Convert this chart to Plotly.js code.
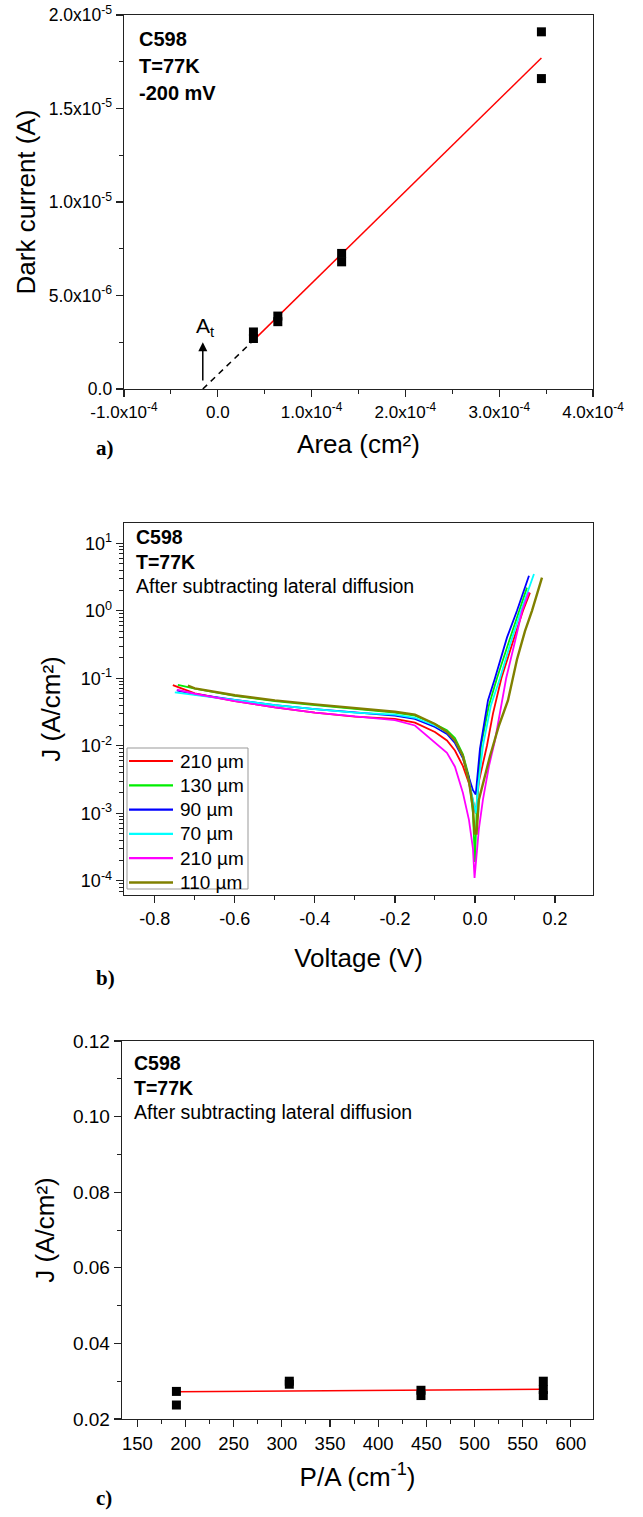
<!DOCTYPE html>
<html><head><meta charset="utf-8">
<script src="https://cdn.plot.ly/plotly-3.0.1.min.js"></script>
<style>body{margin:0;background:#fff}#chart{width:643px;height:1517px}</style>
</head><body><div id="chart"></div>
<script>
// ---------- Panel a data ----------
const areaX = [3.8e-5, 3.8e-5, 6.4e-5, 6.4e-5, 1.32e-4, 1.32e-4, 3.45e-4, 3.45e-4];
const darkI = [3.05e-6, 2.7e-6, 3.9e-6, 3.6e-6, 7.25e-6, 6.8e-6, 1.91e-5, 1.66e-5];
const fitAX = [3.8e-5, 3.45e-4];
const fitAY = [2.6e-6, 1.77e-5];
const extAX = [-1.6e-5, 3.8e-5];
const extAY = [0, 2.6e-6];
const arrowAt = [-1.6e-5, 2.5e-6]; // x of A_t, arrow tip height
const aXTicks = [-1e-4, 0, 1e-4, 2e-4, 3e-4, 4e-4];
const aXText = ['-1.0x10<sup>-4</sup>', '0.0', '1.0x10<sup>-4</sup>', '2.0x10<sup>-4</sup>', '3.0x10<sup>-4</sup>', '4.0x10<sup>-4</sup>'];
const aYTicks = [0, 5e-6, 1e-5, 1.5e-5, 2e-5];
const aYText = ['0.0', '5.0x10<sup>-6</sup>', '1.0x10<sup>-5</sup>', '1.5x10<sup>-5</sup>', '2.0x10<sup>-5</sup>'];

// ---------- Panel b data ----------
const seriesNames = ['210 µm', '130 µm', '90 µm', '70 µm', '210 µm', '110 µm'];
const seriesColors = ['#ff0000', '#00ee00', '#0000ff', '#00ffff', '#ff00ff', '#808000'];
const vRed = [-0.755, -0.7, -0.6, -0.5, -0.4, -0.3, -0.2, -0.15, -0.1, -0.07, -0.05, -0.03, -0.015, -0.005, 0.002, 0.01, 0.03, 0.045, 0.066, 0.095, 0.12, 0.1375];
const jRed = [0.079, 0.060, 0.046, 0.037, 0.031, 0.027, 0.025, 0.022, 0.016, 0.012, 0.0085, 0.005, 0.0028, 0.0015, 0.001, 0.003, 0.01, 0.03, 0.1, 0.35, 1.0, 1.85];
const vGreen = [-0.7425, -0.7, -0.6, -0.5, -0.4, -0.3, -0.2, -0.15, -0.1, -0.07, -0.05, -0.03, -0.015, -0.005, 0.0, 0.005, 0.015, 0.035, 0.055, 0.085, 0.11, 0.13];
const jGreen = [0.080, 0.070, 0.055, 0.046, 0.040, 0.035, 0.031, 0.028, 0.021, 0.017, 0.013, 0.0075, 0.0035, 0.001, 0.00019, 0.0015, 0.01, 0.04, 0.1, 0.35, 1.0, 2.2];
const vBlue = [-0.745, -0.7, -0.6, -0.5, -0.4, -0.3, -0.2, -0.15, -0.1, -0.07, -0.05, -0.03, -0.015, -0.005, 0.002, 0.0125, 0.0325, 0.05, 0.08, 0.105, 0.135];
const jBlue = [0.066, 0.058, 0.048, 0.040, 0.035, 0.031, 0.028, 0.025, 0.019, 0.015, 0.011, 0.0065, 0.0035, 0.0022, 0.0019, 0.009, 0.047, 0.1, 0.4, 1.0, 3.3];
const vCyan = [-0.75, -0.7, -0.6, -0.5, -0.4, -0.3, -0.2, -0.15, -0.1, -0.07, -0.05, -0.03, -0.015, -0.005, 0.002, 0.008, 0.02, 0.04, 0.0625, 0.09, 0.115, 0.1475];
const jCyan = [0.062, 0.057, 0.047, 0.040, 0.035, 0.031, 0.029, 0.026, 0.020, 0.016, 0.012, 0.007, 0.003, 0.0015, 0.001, 0.0025, 0.01, 0.04, 0.1, 0.35, 1.0, 3.5];
const vMag = [-0.745, -0.7, -0.6, -0.5, -0.4, -0.3, -0.2, -0.15, -0.1, -0.07, -0.05, -0.03, -0.015, -0.005, -0.001, 0.01, 0.02, 0.035, 0.05, 0.0675, 0.078, 0.1, 0.118, 0.135];
const jMag = [0.068, 0.059, 0.046, 0.037, 0.031, 0.027, 0.024, 0.020, 0.011, 0.0079, 0.0049, 0.002, 0.0008, 0.0003, 0.00011, 0.0006, 0.0016, 0.005, 0.012, 0.047, 0.1, 0.35, 1.0, 1.9];
const vOlive = [-0.7175, -0.7, -0.6, -0.5, -0.4, -0.3, -0.2, -0.15, -0.1, -0.07, -0.05, -0.03, -0.015, -0.005, -0.001, 0.004, 0.01, 0.0375, 0.06, 0.0825, 0.095, 0.105, 0.125, 0.1425, 0.1675];
const jOlive = [0.078, 0.071, 0.056, 0.047, 0.041, 0.036, 0.032, 0.029, 0.021, 0.016, 0.012, 0.007, 0.003, 0.0012, 0.0005, 0.0005, 0.0016, 0.007, 0.02, 0.047, 0.1, 0.19, 0.5, 1.0, 3.1];
const bV = [vRed, vGreen, vBlue, vCyan, vMag, vOlive];
const bJ = [jRed, jGreen, jBlue, jCyan, jMag, jOlive];
const bXTicks = [-0.8, -0.6, -0.4, -0.2, 0.0, 0.2];
const bXText = ['-0.8', '-0.6', '-0.4', '-0.2', '0.0', '0.2'];
const bYTicks = [1e-4, 1e-3, 1e-2, 1e-1, 1, 10];
const bYText = ['10<sup>-4</sup>', '10<sup>-3</sup>', '10<sup>-2</sup>', '10<sup>-1</sup>', '10<sup>0</sup>', '10<sup>1</sup>'];

// ---------- Panel c data ----------
const paX = [190.5, 190.5, 307.7, 307.7, 444.4, 444.4, 571.4, 571.4, 571.4];
const jC = [0.0273, 0.0237, 0.0300, 0.0292, 0.0276, 0.0262, 0.0300, 0.0278, 0.0262];
const fitCX = [190.5, 571.4];
const fitCY = [0.0272, 0.0279];
const cXTicks = [150, 200, 250, 300, 350, 400, 450, 500, 550, 600];
const cYTicks = [0.02, 0.04, 0.06, 0.08, 0.10, 0.12];
const cYText = ['0.02', '0.04', '0.06', '0.08', '0.10', '0.12'];

// ---------- layout helpers ----------
const W = 643, H = 1517;
const px = v => v / W;
const py = v => 1 - v / H;
const FONT = 'Liberation Sans, Arial, sans-serif';
const SERIF = 'Liberation Serif, Times New Roman, serif';
function ax(tickSize, extra) {
  return Object.assign({
    showline: true, mirror: true, linecolor: '#222', linewidth: 1.3,
    ticks: 'outside', ticklen: 7, tickwidth: 1.2, tickcolor: '#222',
    showgrid: false, zeroline: false,
    tickfont: {family: FONT, size: tickSize, color: '#000'}
  }, extra);
}
function minorLin(a, b, step) { const o = []; for (let v = a; v <= b + step / 2; v += step) o.push(+v.toFixed(10)); return o; }
function minorOf(vals) { return {tickvals: vals, ticklen: 4, tickwidth: 1, tickcolor: '#222', ticks: 'outside'}; }
const logMinor = [];
for (let e = -5; e <= 1; e++) for (let m = 2; m <= 9; m++) logMinor.push(m * Math.pow(10, e));
const titleFont = {family: FONT, size: 26, color: '#000'};

const traces = [];
// a
traces.push({x: extAX, y: extAY, xaxis: 'x', yaxis: 'y', mode: 'lines', line: {color: '#000', width: 1.5, dash: '6px,5px'}, showlegend: false, hoverinfo: 'skip'});
traces.push({x: fitAX, y: fitAY, xaxis: 'x', yaxis: 'y', mode: 'lines', line: {color: '#ff0000', width: 1.5}, showlegend: false});
traces.push({x: areaX, y: darkI, xaxis: 'x', yaxis: 'y', mode: 'markers', marker: {symbol: 'square', size: 9, color: '#000'}, showlegend: false});
// b
for (let i = 0; i < bV.length; i++) {
  traces.push({x: bV[i], y: bJ[i], xaxis: 'x2', yaxis: 'y2', mode: 'lines', name: seriesNames[i], showlegend: false,
    line: {color: seriesColors[i], width: i === 5 ? 2.4 : 1.8}});
}
// c
traces.push({x: fitCX, y: fitCY, xaxis: 'x3', yaxis: 'y3', mode: 'lines', line: {color: '#ff0000', width: 1.5}, showlegend: false});
traces.push({x: paX, y: jC, xaxis: 'x3', yaxis: 'y3', mode: 'markers', marker: {symbol: 'square', size: 9, color: '#000'}, showlegend: false});

function note(x, y, text, size, extra) {
  return Object.assign({xref: 'paper', yref: 'paper', x: px(x), y: py(y), xanchor: 'left', yanchor: 'middle', showarrow: false,
    text: text, font: {family: FONT, size: size, color: '#000'}}, extra || {});
}

// legend box for panel b (drawn as key: border, line samples, labels)
const legBox = {left: 127, right: 248, top: 748, bottom: 889, first: 761, step: 24.3};
const shapes = [{type: 'rect', xref: 'paper', yref: 'paper', x0: px(legBox.left), x1: px(legBox.right), y0: py(legBox.bottom), y1: py(legBox.top),
  line: {color: '#999', width: 1}, fillcolor: '#fff', layer: 'above'}];
const legendNotes = [];
seriesNames.forEach((nm, i) => {
  const yy = legBox.first + i * legBox.step;
  shapes.push({type: 'line', xref: 'paper', yref: 'paper', x0: px(129), x1: px(173), y0: py(yy), y1: py(yy),
    line: {color: seriesColors[i], width: i === 5 ? 2.6 : 2.2}, layer: 'above'});
  legendNotes.push(note(178, yy, nm, 19));
});

const layout = {
  width: W, height: H, margin: {l: 0, r: 0, t: 0, b: 0},
  paper_bgcolor: '#fff', plot_bgcolor: '#fff',
  font: {family: FONT, color: '#000'},
  showlegend: false,
  shapes: shapes,
  xaxis: ax(17, {domain: [px(124), px(593)], anchor: 'y', range: [-1e-4, 4e-4],
    tickmode: 'array', tickvals: aXTicks, ticktext: aXText,
    minor: minorOf(minorLin(-1e-4, 4e-4, 5e-5)),
    title: {text: 'Area (cm²)', standoff: 14, font: titleFont}}),
  yaxis: ax(17.5, {domain: [py(389), py(15)], anchor: 'x', range: [0, 2e-5],
    tickmode: 'array', tickvals: aYTicks, ticktext: aYText,
    minor: minorOf(minorLin(0, 2e-5, 2.5e-6)),
    title: {text: 'Dark current (A)', standoff: 5, font: titleFont}}),
  xaxis2: ax(18, {domain: [px(124), px(593)], anchor: 'y2', range: [-0.877, 0.295],
    tickmode: 'array', tickvals: bXTicks, ticktext: bXText,
    minor: minorOf(minorLin(-0.9, 0.3, 0.1)),
    title: {text: 'Voltage (V)', standoff: 21, font: titleFont}}),
  yaxis2: ax(18, {domain: [py(895), py(523)], anchor: 'x2', type: 'log', range: [-4.21, 1.30],
    tickmode: 'array', tickvals: bYTicks, ticktext: bYText,
    minor: minorOf(logMinor),
    title: {text: 'J (A/cm²)', standoff: 12, font: titleFont}}),
  xaxis3: ax(18.5, {domain: [px(122), px(593)], anchor: 'y3', range: [134, 623],
    tickmode: 'array', tickvals: cXTicks, ticktext: cXTicks.map(String),
    minor: minorOf(minorLin(125, 625, 25)),
    title: {text: 'P/A (cm<sup>-1</sup>)', standoff: 15, font: titleFont}}),
  yaxis3: ax(19, {domain: [py(1419), py(1041)], anchor: 'x3', range: [0.02, 0.12],
    tickmode: 'array', tickvals: cYTicks, ticktext: cYText,
    minor: minorOf(minorLin(0.02, 0.12, 0.01)),
    title: {text: 'J (A/cm²)', standoff: 10, font: titleFont}}),
  annotations: [
    // panel a text block
    note(137, 39, '<b>C598</b>', 20),
    note(137, 66, '<b>T=77K</b>', 20),
    note(137, 93, '<b>-200 mV</b>', 20),
    // A_t arrow
    {xref: 'x', yref: 'y', axref: 'x', ayref: 'y', x: arrowAt[0], y: arrowAt[1], ax: arrowAt[0], ay: 0,
      showarrow: true, arrowhead: 2, arrowsize: 1.2, arrowwidth: 1.5, arrowcolor: '#000', text: ' '},
    {xref: 'x', yref: 'y', x: arrowAt[0], y: arrowAt[1], xanchor: 'left', yanchor: 'bottom', xshift: -9, yshift: 0, showarrow: false,
      text: 'A<sub>t</sub>', font: {family: FONT, size: 21, color: '#000'}},
    // panel b text block
    note(134, 537, '<b>C598</b>', 19.5),
    note(134, 562, '<b>T=77K</b>', 19.5),
    note(134, 586, 'After subtracting lateral diffusion', 19.5),
    // panel c text block
    note(132, 1063, '<b>C598</b>', 19.5),
    note(132, 1088, '<b>T=77K</b>', 19.5),
    note(132, 1112, 'After subtracting lateral diffusion', 19.5),
    // panel labels
    note(94, 448, '<b>a)</b>', 21, {font: {family: SERIF, size: 21, color: '#000'}}),
    note(94, 978, '<b>b)</b>', 21, {font: {family: SERIF, size: 21, color: '#000'}}),
    note(94, 1498, '<b>c)</b>', 21, {font: {family: SERIF, size: 21, color: '#000'}})
  ].concat(legendNotes)
};

Plotly.newPlot('chart', traces, layout, {displayModeBar: false, staticPlot: true});
</script>
</body></html>
